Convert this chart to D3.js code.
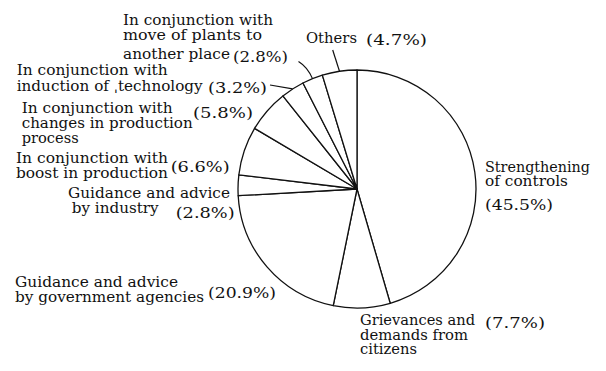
<!DOCTYPE html>
<html>
<head>
<meta charset="utf-8">
<script src="https://cdn.jsdelivr.net/npm/d3@7"></script>
<style>
  html, body { margin: 0; padding: 0; background: #fff; }
  svg { display: block; }
  text { font-family: "DejaVu Serif", serif; font-size: 15px; fill: #111; }
</style>
</head>
<body>
<svg id="chart" width="606" height="371"></svg>
<script>
// ---- data ----
const categories = [
  "Strengthening of controls",
  "Grievances and demands from citizens",
  "Guidance and advice by government agencies",
  "Guidance and advice by industry",
  "In conjunction with boost in production",
  "In conjunction with changes in production process",
  "In conjunction with induction of technology",
  "In conjunction with move of plants to another place",
  "Others"
];
const values = [45.5, 7.7, 20.9, 2.8, 6.6, 5.8, 3.2, 2.8, 4.7];
const labelLines = [
  ["Strengthening", "of controls"],
  ["Grievances and", "demands from", "citizens"],
  ["Guidance and advice", "by government agencies"],
  ["Guidance and advice", "by industry"],
  ["In conjunction with", "boost in production"],
  ["In conjunction with", "changes in production", "process"],
  ["In conjunction with", "induction of \u02CCtechnology"],
  ["In conjunction with", "move of plants to", "another place"],
  ["Others"]
];
const pctLabels = values.map(v => "(" + v.toFixed(1) + "%)");

// ---- layout (positions of annotations) ----
const labelLayout = [
  { x: [485, 485], y: [171.7, 186], w: [105, 83], px: 485, py: 210, pw: 68 },
  { x: [360, 360, 360], y: [325, 339.5, 354], w: [115, 108, 57], px: 485, py: 328, pw: 60 },
  { x: [15, 15], y: [286.7, 301.7], w: [163, 189], px: 208, py: 298, pw: 68 },
  { x: [68, 71.7], y: [198.3, 213.3], w: [162, 87], px: 175.7, py: 218, pw: 59 },
  { x: [16, 16], y: [163.3, 178.3], w: [152, 152], px: 170.7, py: 171.7, pw: 59 },
  { x: [21.7, 21.7, 21.7], y: [113.3, 128.3, 142.7], w: [151, 171, 57], px: 193, py: 118, pw: 60 },
  { x: [16.7, 16.7], y: [75, 90.7], w: [151, 186], px: 208, py: 92.7, pw: 59 },
  { x: [123, 123, 123], y: [25, 39.7, 58.5], w: [150, 139, 107], px: 233, py: 62, pw: 55 },
  { x: [306], y: [43.3], w: [51], px: 366, py: 45, pw: 61 }
];
// leader line starting points (index -> start)
const leaders = [
  { i: 6, sx: 270, sy: 85, curve: 0 },
  { i: 7, sx: 298.5, sy: 61.5, curve: 1 },
  { i: 8, sx: 332.7, sy: 50, curve: 0 }
];

const cx = 357, cy = 189, R = 119;

const svg = d3.select("#chart");
const g = svg.append("g").attr("transform", `translate(${cx},${cy})`);

const pie = d3.pie().sort(null).value(d => d).startAngle(0).endAngle(2 * Math.PI);
const arcs = pie(values);
const arc = d3.arc().innerRadius(0).outerRadius(R);

g.selectAll("path.slice")
  .data(arcs)
  .join("path")
  .attr("class", "slice")
  .attr("d", arc)
  .attr("fill", "#fff")
  .attr("stroke", "#111")
  .attr("stroke-width", 1.3)
  .attr("stroke-linejoin", "round");

// leader lines
leaders.forEach(L => {
  const a = arcs[L.i];
  const mid = (a.startAngle + a.endAngle) / 2;
  const ex = cx + R * Math.sin(mid), ey = cy - R * Math.cos(mid);
  const p = d3.path();
  p.moveTo(L.sx, L.sy);
  if (L.curve) {
    p.quadraticCurveTo((L.sx + ex) / 2 + 2, (L.sy + ey) / 2 - 3, ex, ey);
  } else {
    p.lineTo(ex, ey);
  }
  svg.append("path").attr("d", p.toString())
    .attr("fill", "none").attr("stroke", "#111").attr("stroke-width", 1.2);
});

// labels
labelLines.forEach((lines, i) => {
  const L = labelLayout[i];
  lines.forEach((t, j) => {
    svg.append("text")
      .attr("x", L.x[j]).attr("y", L.y[j])
      .attr("textLength", L.w[j]).attr("lengthAdjust", "spacingAndGlyphs")
      .text(t);
  });
  svg.append("text")
    .attr("x", L.px).attr("y", L.py)
    .attr("textLength", L.pw).attr("lengthAdjust", "spacingAndGlyphs")
    .text(pctLabels[i]);
});
</script>
</body>
</html>
